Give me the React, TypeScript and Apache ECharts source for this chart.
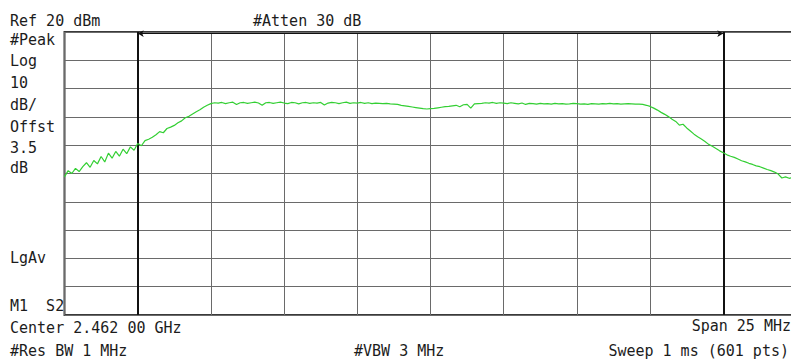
import React, { useEffect, useRef } from "react";
import * as echarts from "echarts";

// Sweep: center 2.462 GHz, span 25 MHz, x given as offset from center (MHz)
const sweepStartMHz = -12.5;
const sweepStepMHz = 0.125;
const xTicksMHz = [-12.5, 12.5, 2.5]; // min, max, interval (10 divisions)
const yRangeDbm = [-80, 20, 10]; // ref 20 dBm, 10 dB/div
const channelEdgesMHz = [-10, 10];

// Trace (dBm)
const traceDbm = [
  -31.2, -29.0, -30.0, -28.2, -29.3, -27.6, -26.2, -27.8, -25.4, -26.6,
  -24.0, -25.9, -22.8, -24.6, -22.2, -23.9, -21.4, -23.0, -20.6, -21.8,
  -19.4, -20.2, -18.4, -17.9, -17.2, -16.3, -15.2, -15.6, -14.1, -13.6,
  -13.0, -12.1, -11.4, -10.3, -9.8, -9.0, -8.2, -7.5, -6.6, -5.9,
  -5.3, -5.0, -5.1, -4.9, -5.3, -5.0, -4.8, -5.6, -5.0, -4.9,
  -5.2, -5.0, -4.8, -5.1, -5.9, -5.0, -4.9, -5.2, -5.0, -4.8,
  -5.1, -5.3, -4.9, -5.0, -5.4, -5.0, -4.9, -5.2, -5.0, -5.1,
  -4.9, -5.8, -5.1, -4.9, -5.0, -5.3, -5.0, -4.8, -5.2, -5.0,
  -5.1, -4.9, -5.2, -5.0, -5.3, -5.1, -5.2, -5.3, -5.2, -5.4,
  -5.5, -5.6, -5.9, -6.1, -6.3, -6.5, -6.7, -6.9, -7.1, -7.2,
  -7.1, -7.0, -6.8, -6.6, -6.4, -6.3, -6.1, -5.9, -6.4, -5.7,
  -5.6, -6.9, -5.4, -5.3, -5.2, -5.0, -5.1, -4.9, -5.2, -5.0,
  -5.1, -5.3, -5.0, -5.2, -5.4, -5.1, -5.6, -5.2, -5.3, -5.5,
  -5.2, -5.4, -5.3, -5.5, -5.2, -5.4, -5.3, -5.5, -5.4, -5.2,
  -5.3, -5.5, -5.4, -5.6, -5.3, -5.4, -5.5, -5.3, -5.4, -5.2,
  -5.4, -5.3, -5.5, -5.4, -5.3, -5.4, -5.5, -5.5, -5.6, -5.9,
  -6.3, -6.9, -7.6, -8.4, -9.1, -9.9, -10.8, -11.6, -12.9, -12.6,
  -13.9, -15.0, -16.1, -17.0, -17.8, -18.7, -19.7, -20.4, -21.2, -22.0,
  -22.7, -23.4, -23.9, -24.3, -24.9, -25.5, -25.9, -26.4, -26.8, -27.3,
  -27.6, -28.1, -28.6, -29.0, -29.5, -30.2, -31.6, -31.2, -31.7, -31.4,
  -31.8,
];

const leftLabels = ["#Peak", "Log", "10", "dB/", "Offst", "3.5", "dB", "LgAv", "M1  S2"];
const leftLabelTops = [34, 55.5, 77, 99, 121, 142, 162, 252.5, 300.5];

const FONT = '15px "DejaVu Sans Mono", "Liberation Mono", monospace';
const INK = "#1c1c1c";

function txt(text: string, x: number, top: number, align: string = "left") {
  return {
    type: "text",
    x,
    y: top + 5.5,
    silent: true,
    style: { text, font: FONT, fill: INK, align, verticalAlign: "middle" },
  };
}

export default function App() {
  const ref = useRef<HTMLDivElement>(null);
  useEffect(() => {
    if (!ref.current) return;
    const chart = echarts.init(ref.current, null, { renderer: "svg" });
    const data = traceDbm.map((v, i) => [sweepStartMHz + i * sweepStepMHz, v]);
    const graphics: any[] = [
      txt("Ref 20 dBm", 10, 15),
      txt("#Atten 30 dB", 253, 15),
      ...leftLabels.map((t, i) => txt(t, 10, leftLabelTops[i])),
      txt("Center 2.462 00 GHz", 10, 322),
      txt("Span 25 MHz", 791, 320.5, "right"),
      txt("#Res BW 1 MHz", 10, 345.5),
      txt("#VBW 3 MHz", 354, 345.5),
      txt("Sweep 1 ms (601 pts)", 789, 345.5, "right"),
    ];
    chart.setOption({
      animation: false,
      backgroundColor: "#ffffff",
      grid: {
        left: 64.5,
        top: 32,
        width: 732,
        height: 283,
        outerBoundsMode: "none",
        containLabel: false,
        show: true,
        borderColor: "#3a3a3a",
        borderWidth: 2,
        backgroundColor: "transparent",
      },
      xAxis: {
        type: "value",
        min: xTicksMHz[0],
        max: xTicksMHz[1],
        interval: xTicksMHz[2],
        axisLine: { show: false },
        axisTick: { show: false },
        axisLabel: { show: false },
        splitLine: { show: true, lineStyle: { color: "#6a6a6a", width: 1 } },
      },
      yAxis: {
        type: "value",
        min: yRangeDbm[0],
        max: yRangeDbm[1],
        interval: yRangeDbm[2],
        axisLine: { show: false },
        axisTick: { show: false },
        axisLabel: { show: false },
        splitLine: { show: true, lineStyle: { color: "#6a6a6a", width: 1 } },
      },
      series: [
        {
          type: "line",
          data,
          showSymbol: false,
          symbol: "none",
          lineStyle: { color: "#33cf33", width: 1.2 },
          z: 5,
          markLine: {
            silent: true,
            symbol: "none",
            label: { show: false },
            lineStyle: { color: "#111111", width: 2, type: "solid" },
            data: channelEdgesMHz.map((x) => ({ xAxis: x })),
          },
        },
        {
          type: "line",
          data: [],
          markLine: {
            silent: true,
            symbol: ["arrow", "arrow"],
            symbolSize: [5, 6],
            label: { show: false },
            lineStyle: { color: "#111111", width: 1, type: "solid" },
            data: [
              [
                { coord: [channelEdgesMHz[0], 19.45] },
                { coord: [channelEdgesMHz[1], 19.45] },
              ],
            ],
          },
        },
      ],
      graphic: graphics,
    });
    return () => chart.dispose();
  }, []);
  return (
    <div
      ref={ref}
      style={{ position: "absolute", left: 0, top: 0, width: 791, height: 364, background: "#fff" }}
    />
  );
}
